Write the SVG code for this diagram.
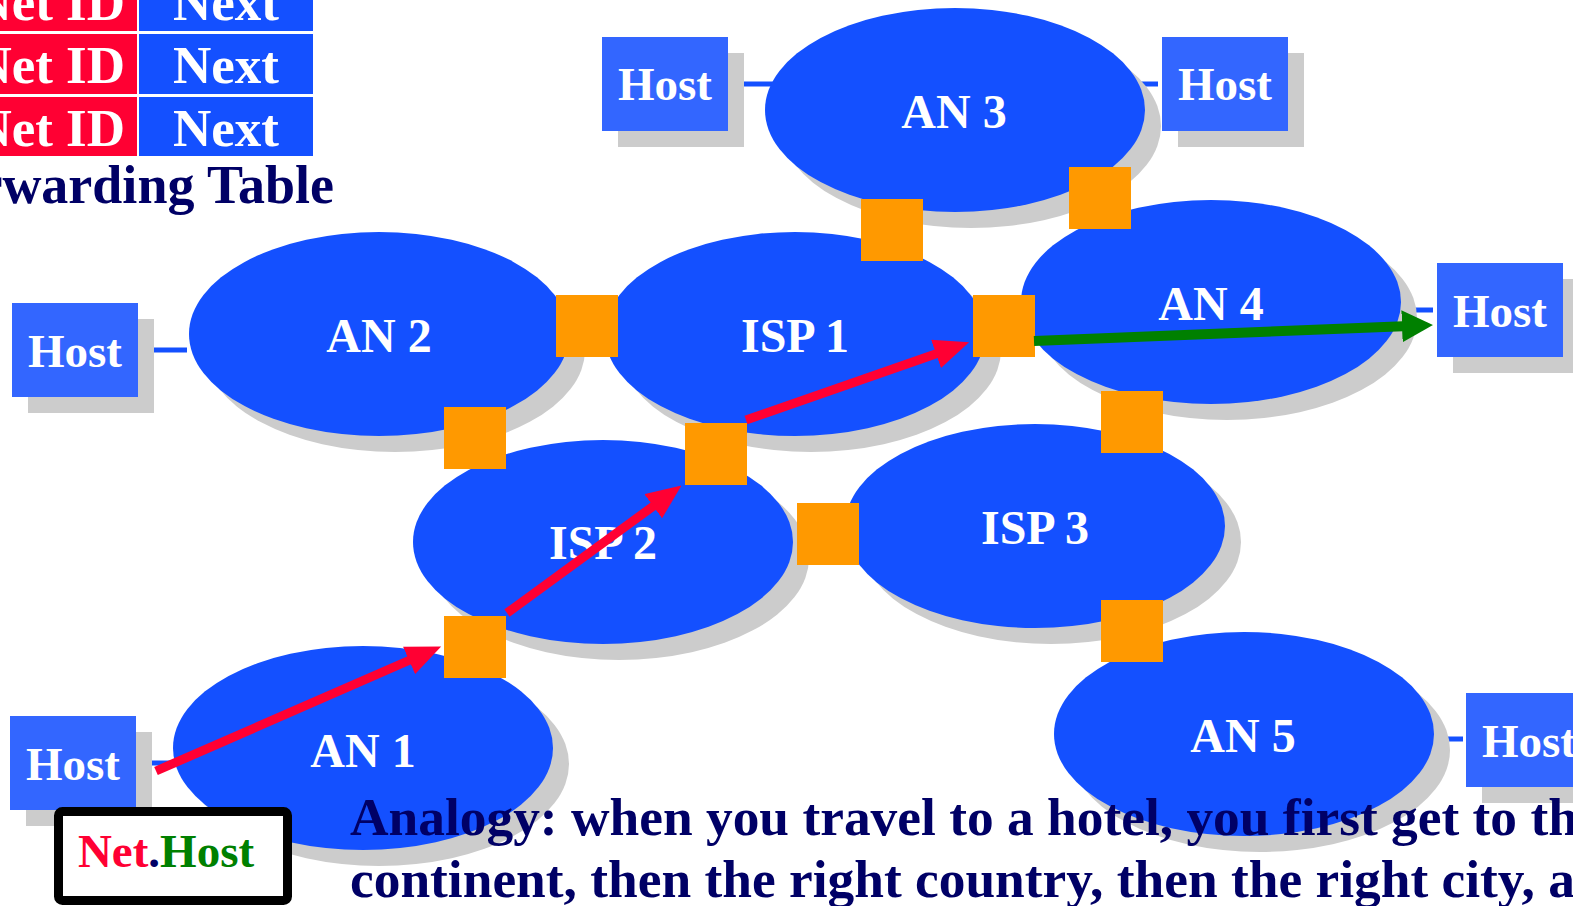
<svg xmlns="http://www.w3.org/2000/svg" width="1573" height="906" viewBox="0 0 1573 906">
<style>
.sh{fill:#cccccc}
.net{fill:#1450ff}
.host{fill:#3366ff}
.rt{fill:#ff9900}
.lbl{font-family:"Liberation Serif","Times New Roman",serif;font-weight:bold;fill:#ffffff;text-anchor:middle}
.nl{font-size:48px}
.hl{font-size:47px}
.tl{font-size:53px}
.navy{font-family:"Liberation Serif","Times New Roman",serif;font-weight:bold;fill:#000066}
.link{stroke:#1450ff;stroke-width:5;fill:none}
</style>
<defs>
<marker id="ahr" viewBox="0 -15 35 30" refX="1" refY="0" markerWidth="35" markerHeight="30" markerUnits="userSpaceOnUse" orient="auto"><path d="M0,-15 L35,0 L0,15 z" fill="#ff0033"/></marker>
<marker id="ahg" viewBox="0 -16 31 32" refX="1" refY="0" markerWidth="31" markerHeight="32" markerUnits="userSpaceOnUse" orient="auto"><path d="M0,-16 L31,0 L0,16 z" fill="#008000"/></marker>
</defs>
<rect width="1573" height="906" fill="#ffffff"/>

<g id="table">
<rect x="-60" y="-29" width="197" height="60" fill="#ff0033"/>
<rect x="139" y="-29" width="174" height="60" fill="#1450ff"/>
<rect x="-60" y="34" width="197" height="60" fill="#ff0033"/>
<rect x="139" y="34" width="174" height="60" fill="#1450ff"/>
<rect x="-60" y="97" width="197" height="59" fill="#ff0033"/>
<rect x="139" y="97" width="174" height="59" fill="#1450ff"/>
<text class="lbl tl" x="125" y="20" style="text-anchor:end">Net ID</text>
<text class="lbl tl" x="226" y="20">Next</text>
<text class="lbl tl" x="125" y="83" style="text-anchor:end">Net ID</text>
<text class="lbl tl" x="226" y="83">Next</text>
<text class="lbl tl" x="125" y="146" style="text-anchor:end">Net ID</text>
<text class="lbl tl" x="226" y="146">Next</text>
<text class="navy" x="334" y="203" font-size="54" text-anchor="end">Forwarding Table</text>
</g>

<g id="links">
<line class="link" x1="731" y1="84" x2="776" y2="84"/>
<line class="link" x1="1136" y1="84" x2="1158" y2="84"/>
<line class="link" x1="142" y1="350" x2="187" y2="350"/>
<line class="link" x1="1404" y1="310" x2="1433" y2="310"/>
<line class="link" x1="139" y1="763" x2="178" y2="763"/>
<line class="link" x1="1436" y1="739" x2="1463" y2="739"/>
</g>

<g id="host-an3-left"><rect class="sh" x="618" y="53" width="126" height="94"/><rect class="host" x="602" y="37" width="126" height="94"/><text class="lbl hl" x="665" y="100">Host</text></g>
<g id="host-an3-right"><rect class="sh" x="1178" y="53" width="126" height="94"/><rect class="host" x="1162" y="37" width="126" height="94"/><text class="lbl hl" x="1225" y="100">Host</text></g>
<g id="host-an2"><rect class="sh" x="28" y="319" width="126" height="94"/><rect class="host" x="12" y="303" width="126" height="94"/><text class="lbl hl" x="75" y="367">Host</text></g>
<g id="host-an4"><rect class="sh" x="1453" y="279" width="126" height="94"/><rect class="host" x="1437" y="263" width="126" height="94"/><text class="lbl hl" x="1500" y="327">Host</text></g>
<g id="host-an1"><rect class="sh" x="26" y="732" width="126" height="94"/><rect class="host" x="10" y="716" width="126" height="94"/><text class="lbl hl" x="73" y="780">Host</text></g>
<g id="host-an5"><rect class="sh" x="1482" y="709" width="126" height="94"/><rect class="host" x="1466" y="693" width="126" height="94"/><text class="lbl hl" x="1529" y="757">Host</text></g>

<g id="an3"><ellipse class="sh" cx="971" cy="126" rx="190" ry="102"/><ellipse class="net" cx="955" cy="110" rx="190" ry="102"/><text class="lbl nl" x="954" y="128">AN 3</text></g>
<g id="an2"><ellipse class="sh" cx="395" cy="350" rx="190" ry="102"/><ellipse class="net" cx="379" cy="334" rx="190" ry="102"/><text class="lbl nl" x="379" y="352">AN 2</text></g>
<g id="isp1"><ellipse class="sh" cx="811" cy="350" rx="190" ry="102"/><ellipse class="net" cx="795" cy="334" rx="190" ry="102"/><text class="lbl nl" x="795" y="352">ISP 1</text></g>
<g id="an4"><ellipse class="sh" cx="1227" cy="318" rx="190" ry="102"/><ellipse class="net" cx="1211" cy="302" rx="190" ry="102"/><text class="lbl nl" x="1211" y="320">AN 4</text></g>
<g id="isp2"><ellipse class="sh" cx="619" cy="558" rx="190" ry="102"/><ellipse class="net" cx="603" cy="542" rx="190" ry="102"/><text class="lbl nl" x="603" y="559">ISP 2</text></g>
<g id="isp3"><ellipse class="sh" cx="1051" cy="542" rx="190" ry="102"/><ellipse class="net" cx="1035" cy="526" rx="190" ry="102"/><text class="lbl nl" x="1035" y="544">ISP 3</text></g>
<g id="an1"><ellipse class="sh" cx="379" cy="764" rx="190" ry="102"/><ellipse class="net" cx="363" cy="748" rx="190" ry="102"/><text class="lbl nl" x="363" y="767">AN 1</text></g>
<g id="an5"><ellipse class="sh" cx="1260" cy="750" rx="190" ry="102"/><ellipse class="net" cx="1244" cy="734" rx="190" ry="102"/><text class="lbl nl" x="1243" y="752">AN 5</text></g>

<g id="routers">
<rect class="rt" x="861" y="199" width="62" height="62"/>
<rect class="rt" x="1069" y="167" width="62" height="62"/>
<rect class="rt" x="556" y="295" width="62" height="62"/>
<rect class="rt" x="973" y="295" width="62" height="62"/>
<rect class="rt" x="444" y="407" width="62" height="62"/>
<rect class="rt" x="685" y="423" width="62" height="62"/>
<rect class="rt" x="1101" y="391" width="62" height="62"/>
<rect class="rt" x="797" y="503" width="62" height="62"/>
<rect class="rt" x="444" y="616" width="62" height="62"/>
<rect class="rt" x="1101" y="600" width="62" height="62"/>
</g>

<g id="arrows">
<line x1="156" y1="771" x2="410" y2="660" stroke="#ff0033" stroke-width="9" marker-end="url(#ahr)"/>
<line x1="507" y1="613" x2="654" y2="505.6" stroke="#ff0033" stroke-width="9" marker-end="url(#ahr)"/>
<line x1="746" y1="420" x2="937" y2="353.5" stroke="#ff0033" stroke-width="9" marker-end="url(#ahr)"/>
<line x1="1034" y1="341" x2="1403" y2="326.2" stroke="#008000" stroke-width="10" marker-end="url(#ahg)"/>
</g>

<g id="nethost">
<rect x="58.5" y="811.5" width="229" height="89" rx="4" fill="#ffffff" stroke="#000000" stroke-width="9"/>
<text x="166" y="867" font-family="'Liberation Serif','Times New Roman',serif" font-weight="bold" font-size="47" text-anchor="middle"><tspan fill="#ff0033">Net</tspan><tspan fill="#000066">.</tspan><tspan fill="#008000">Host</tspan></text>
</g>

<g id="analogy">
<text class="navy" x="350" y="835" font-size="53.4">Analogy: when you travel to a hotel, you first get to th</text>
<text class="navy" x="350" y="897" font-size="53.4">continent, then the right country, then the right city, a</text>
</g>
</svg>
